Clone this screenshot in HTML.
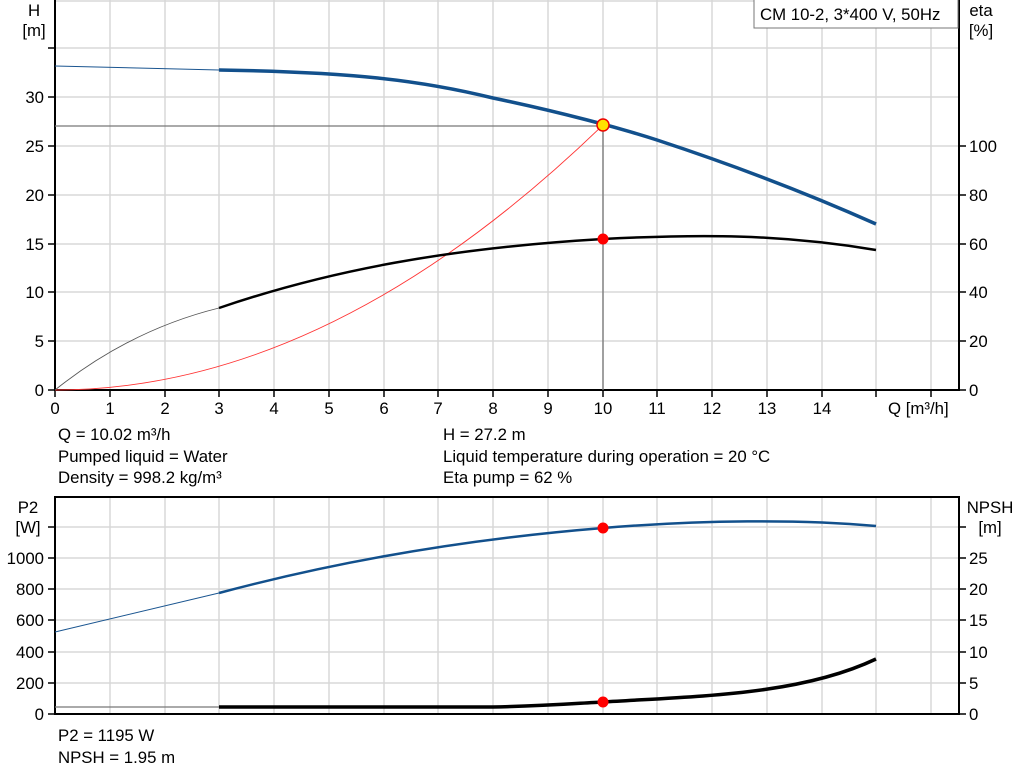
<!DOCTYPE html>
<html><head><meta charset="utf-8"><style>
body{margin:0;background:#fff}
svg{display:block;font-family:"Liberation Sans",Arial,sans-serif;font-size:16.8px;fill:#000}
.g{stroke:#d8d8d8;stroke-width:1.5}
</style></head><body>
<svg width="1024" height="781" viewBox="0 0 1024 781">
<g class="g">
<line x1="110" y1="0" x2="110" y2="390"/><line x1="165" y1="0" x2="165" y2="390"/><line x1="219" y1="0" x2="219" y2="390"/><line x1="274" y1="0" x2="274" y2="390"/><line x1="329" y1="0" x2="329" y2="390"/><line x1="384" y1="0" x2="384" y2="390"/><line x1="438" y1="0" x2="438" y2="390"/><line x1="493" y1="0" x2="493" y2="390"/><line x1="548" y1="0" x2="548" y2="390"/><line x1="603" y1="0" x2="603" y2="390"/><line x1="657" y1="0" x2="657" y2="390"/><line x1="712" y1="0" x2="712" y2="390"/><line x1="767" y1="0" x2="767" y2="390"/><line x1="822" y1="0" x2="822" y2="390"/><line x1="876" y1="0" x2="876" y2="390"/><line x1="931" y1="0" x2="931" y2="390"/>
<line x1="55" y1="1" x2="959" y2="1"/><line x1="55" y1="48" x2="959" y2="48"/><line x1="55" y1="97" x2="959" y2="97"/><line x1="55" y1="146" x2="959" y2="146"/><line x1="55" y1="195" x2="959" y2="195"/><line x1="55" y1="244" x2="959" y2="244"/><line x1="55" y1="292" x2="959" y2="292"/><line x1="55" y1="341" x2="959" y2="341"/>
</g>
<g stroke="#000" stroke-width="2">
<line x1="55" y1="0" x2="55" y2="391"/><line x1="54" y1="390" x2="960" y2="390"/><line x1="959" y1="0" x2="959" y2="391"/>
</g>
<g stroke="#000" stroke-width="1.5">
<line x1="48" y1="48" x2="55" y2="48"/><line x1="48" y1="97" x2="55" y2="97"/><line x1="48" y1="146" x2="55" y2="146"/><line x1="48" y1="195" x2="55" y2="195"/><line x1="48" y1="244" x2="55" y2="244"/><line x1="48" y1="292" x2="55" y2="292"/><line x1="48" y1="341" x2="55" y2="341"/><line x1="48" y1="390" x2="55" y2="390"/>
<line x1="959" y1="146" x2="966" y2="146"/><line x1="959" y1="195" x2="966" y2="195"/><line x1="959" y1="244" x2="966" y2="244"/><line x1="959" y1="292" x2="966" y2="292"/><line x1="959" y1="341" x2="966" y2="341"/><line x1="959" y1="390" x2="966" y2="390"/>
<line x1="55" y1="390" x2="55" y2="397"/><line x1="110" y1="390" x2="110" y2="397"/><line x1="165" y1="390" x2="165" y2="397"/><line x1="219" y1="390" x2="219" y2="397"/><line x1="274" y1="390" x2="274" y2="397"/><line x1="329" y1="390" x2="329" y2="397"/><line x1="384" y1="390" x2="384" y2="397"/><line x1="438" y1="390" x2="438" y2="397"/><line x1="493" y1="390" x2="493" y2="397"/><line x1="548" y1="390" x2="548" y2="397"/><line x1="603" y1="390" x2="603" y2="397"/><line x1="657" y1="390" x2="657" y2="397"/><line x1="712" y1="390" x2="712" y2="397"/><line x1="767" y1="390" x2="767" y2="397"/><line x1="822" y1="390" x2="822" y2="397"/><line x1="876" y1="390" x2="876" y2="397"/><line x1="931" y1="390" x2="931" y2="397"/>
</g>
<g text-anchor="end">
<text x="44" y="103">30</text><text x="44" y="152">25</text><text x="44" y="201">20</text><text x="44" y="250">15</text><text x="44" y="298">10</text><text x="44" y="347">5</text><text x="44" y="396">0</text>
</g>
<text x="34" y="16" text-anchor="middle">H</text><text x="34" y="36" text-anchor="middle">[m]</text>
<text x="981" y="16" text-anchor="middle">eta</text><text x="981" y="36" text-anchor="middle">[%]</text>
<g>
<text x="969" y="152">100</text><text x="969" y="201">80</text><text x="969" y="250">60</text><text x="969" y="298">40</text><text x="969" y="347">20</text><text x="969" y="396">0</text>
</g>
<g text-anchor="middle">
<text x="55" y="414">0</text><text x="110" y="414">1</text><text x="165" y="414">2</text><text x="219" y="414">3</text><text x="274" y="414">4</text><text x="329" y="414">5</text><text x="384" y="414">6</text><text x="438" y="414">7</text><text x="493" y="414">8</text><text x="548" y="414">9</text><text x="603" y="414">10</text><text x="657" y="414">11</text><text x="712" y="414">12</text><text x="767" y="414">13</text><text x="822" y="414">14</text>
</g>
<text x="888" y="414">Q [m³/h]</text>
<rect x="754" y="-1" width="204" height="29" fill="#fff" stroke="#777"/>
<text x="760" y="20">CM 10-2, 3*400 V, 50Hz</text>
<path d="M55 126H603V390" fill="none" stroke="#777" stroke-width="1.3"/>
<path d="M55 390 Q329 390 603 125" fill="none" stroke="#f33" stroke-width="0.9"/>
<path d="M55 66 L219 70" stroke="#1a5590" stroke-width="1" fill="none"/>
<path d="M219 70 C 350 72 420 80 493 98 C 560 112 620 128 657 140 C 730 164 800 190 876 224" stroke="#12508c" stroke-width="3.5" fill="none"/>
<path d="M55 390 Q130 330 219 308" stroke="#555" stroke-width="0.9" fill="none"/>
<path d="M219 308 C 330 270 450 248 603 239 C 700 234 780 234 876 250" stroke="#000" stroke-width="2.5" fill="none"/>
<circle cx="603" cy="125" r="6" fill="#ffe000" stroke="#e00" stroke-width="1.5"/>
<circle cx="603" cy="239" r="5.5" fill="#f00"/>
<text x="58" y="440">Q = 10.02 m³/h</text>
<text x="58" y="462">Pumped liquid = Water</text>
<text x="58" y="483">Density = 998.2 kg/m³</text>
<text x="443" y="440">H = 27.2 m</text>
<text x="443" y="462">Liquid temperature during operation = 20 °C</text>
<text x="443" y="483">Eta pump = 62 %</text>
<g class="g">
<line x1="110" y1="497" x2="110" y2="714"/><line x1="165" y1="497" x2="165" y2="714"/><line x1="219" y1="497" x2="219" y2="714"/><line x1="274" y1="497" x2="274" y2="714"/><line x1="329" y1="497" x2="329" y2="714"/><line x1="384" y1="497" x2="384" y2="714"/><line x1="438" y1="497" x2="438" y2="714"/><line x1="493" y1="497" x2="493" y2="714"/><line x1="548" y1="497" x2="548" y2="714"/><line x1="603" y1="497" x2="603" y2="714"/><line x1="657" y1="497" x2="657" y2="714"/><line x1="712" y1="497" x2="712" y2="714"/><line x1="767" y1="497" x2="767" y2="714"/><line x1="822" y1="497" x2="822" y2="714"/><line x1="876" y1="497" x2="876" y2="714"/><line x1="931" y1="497" x2="931" y2="714"/>
<line x1="55" y1="527" x2="959" y2="527"/><line x1="55" y1="558" x2="959" y2="558"/><line x1="55" y1="589" x2="959" y2="589"/><line x1="55" y1="620" x2="959" y2="620"/><line x1="55" y1="652" x2="959" y2="652"/><line x1="55" y1="683" x2="959" y2="683"/>
</g>
<g stroke="#000" stroke-width="2">
<line x1="54" y1="497" x2="960" y2="497"/><line x1="55" y1="497" x2="55" y2="715"/><line x1="54" y1="714" x2="960" y2="714"/><line x1="959" y1="497" x2="959" y2="715"/>
</g>
<g stroke="#000" stroke-width="1.5">
<line x1="48" y1="527" x2="55" y2="527"/><line x1="48" y1="558" x2="55" y2="558"/><line x1="48" y1="589" x2="55" y2="589"/><line x1="48" y1="620" x2="55" y2="620"/><line x1="48" y1="652" x2="55" y2="652"/><line x1="48" y1="683" x2="55" y2="683"/><line x1="48" y1="714" x2="55" y2="714"/>
<line x1="959" y1="527" x2="966" y2="527"/><line x1="959" y1="558" x2="966" y2="558"/><line x1="959" y1="589" x2="966" y2="589"/><line x1="959" y1="620" x2="966" y2="620"/><line x1="959" y1="652" x2="966" y2="652"/><line x1="959" y1="683" x2="966" y2="683"/><line x1="959" y1="714" x2="966" y2="714"/>
</g>
<text x="28" y="513" text-anchor="middle">P2</text><text x="28" y="533" text-anchor="middle">[W]</text>
<g text-anchor="end">
<text x="44" y="564">1000</text><text x="44" y="595">800</text><text x="44" y="626">600</text><text x="44" y="658">400</text><text x="44" y="689">200</text><text x="44" y="720">0</text>
</g>
<text x="990" y="513" text-anchor="middle">NPSH</text><text x="990" y="533" text-anchor="middle">[m]</text>
<g>
<text x="969" y="564">25</text><text x="969" y="595">20</text><text x="969" y="626">15</text><text x="969" y="658">10</text><text x="969" y="689">5</text><text x="969" y="720">0</text>
</g>
<path d="M55 632 L219 593" stroke="#1a5590" stroke-width="1" fill="none"/>
<path d="M219 593 C 350 558 480 538 603 528 C 700 520 800 519 876 526" stroke="#12508c" stroke-width="2.5" fill="none"/>
<path d="M55 707 L219 707" stroke="#777" stroke-width="1.2" fill="none"/>
<path d="M219 707 L493 707 C 550 706 580 703 603 702 C 700 696 800 695 876 659" stroke="#000" stroke-width="3.5" fill="none"/>
<circle cx="603" cy="528" r="5.5" fill="#f00"/>
<circle cx="603" cy="702" r="5.5" fill="#f00"/>
<text x="58" y="741">P2 = 1195 W</text>
<text x="58" y="763">NPSH = 1.95 m</text>
</svg>
</body></html>
